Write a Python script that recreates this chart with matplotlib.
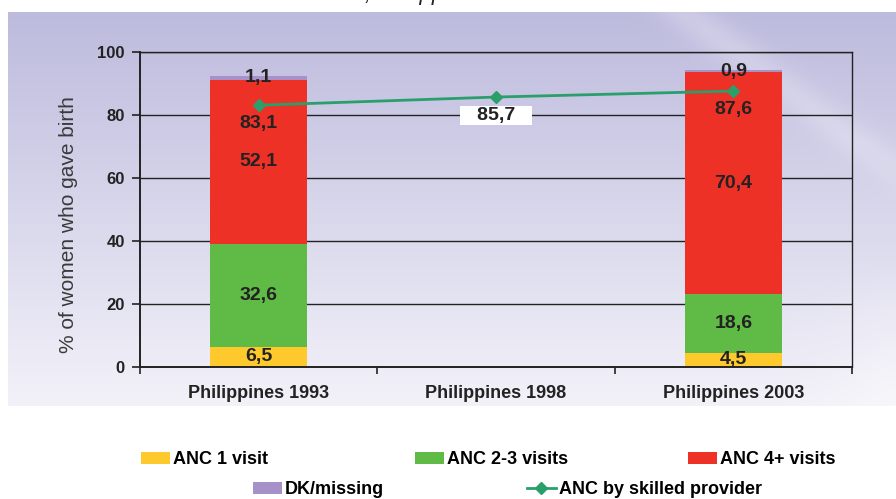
import numpy as np
import matplotlib.pyplot as plt
from matplotlib.patches import Patch
from matplotlib.lines import Line2D

plt.rcParams['font.family'] = ['Liberation Sans', 'DejaVu Sans']

# data (1998 has no visit breakdown, only the skilled-provider point)
categories = ['Philippines 1993', 'Philippines 1998', 'Philippines 2003']
anc_1 = [6.5, np.nan, 4.5]
anc_2_3 = [32.6, np.nan, 18.6]
anc_4plus = [52.1, np.nan, 70.4]
dk_missing = [1.1, np.nan, 0.9]
skilled = [83.1, 85.7, 87.6]

series_names = ['ANC 1 visit', 'ANC 2-3 visits', 'ANC 4+ visits', 'DK/missing']
series_colors = ['#fec92c', '#5fba46', '#ee3126', '#a791c9']
line_name = 'ANC by skilled provider'
line_color = '#2a9f6c'

W, H = 896, 499
fig = plt.figure(figsize=(W / 100, H / 100), dpi=100)

# lavender gradient panel behind the chart
px0, py0, px1, py1 = 8, 12, 896, 406
bg = fig.add_axes([px0 / W, 1 - py1 / H, (px1 - px0) / W, (py1 - py0) / H])
bg.set_zorder(0)
xs = np.arange(px0, px1)
ys = np.arange(py0, py1)
X, Y = np.meshgrid(xs, ys)
t = ((Y - py0) / (py1 - py0))[..., None]
top = np.array([189, 187, 221]) / 255
bottom = np.array([243, 242, 249]) / 255
img = top * (1 - t) + bottom * t
d = np.abs((Y - 12) - 0.75 * (X - 683)) / 1.25
light = 0.22 * np.exp(-(d / 18) ** 2) * np.clip((260 - Y) / 120, 0, 1)
light += 0.35 * np.exp(-((X - 896) / 60) ** 2) * np.clip((Y - 260) / 120, 0, 1)
light = np.clip(light, 0, 0.6)[..., None]
img = img * (1 - light) + light
bg.imshow(img, aspect='auto', interpolation='bilinear')
bg.axis('off')

ax = fig.add_axes([140 / W, 1 - 367 / H, 712 / W, 315 / H])
ax.set_zorder(1)
ax.patch.set_alpha(0)

x = np.arange(len(categories))
bottoms = np.zeros(len(categories))
for name, vals, col in zip(series_names, [anc_1, anc_2_3, anc_4plus, dk_missing], series_colors):
    vals = np.array(vals, dtype=float)
    ax.bar(x, vals, 0.41, bottom=bottoms, color=col, zorder=2)
    for i, v in enumerate(vals):
        if not np.isnan(v):
            ax.text(x[i], bottoms[i] + v / 2, f'{v:.1f}'.replace('.', ','),
                    ha='center', va='center', fontsize=14, fontweight='bold',
                    color='#222222', zorder=5)
    bottoms = bottoms + np.nan_to_num(vals)

ax.plot(x, skilled, color=line_color, lw=2, marker='D', markersize=6, zorder=4)
for i, v in enumerate(skilled):
    lab = f'{v:.1f}'.replace('.', ',')
    kw = {}
    if i == 1:
        lab = '   ' + lab + '   '
        kw['bbox'] = dict(boxstyle='square,pad=0.05', facecolor='white', edgecolor='none')
    ax.annotate(lab, (x[i], v), xytext=(0, -18), textcoords='offset pixels',
                ha='center', va='center', fontsize=14, fontweight='bold',
                color='#222222', zorder=6, **kw)

ax.set_xlim(-0.5, 2.5)
ax.set_ylim(0, 100)
ax.set_yticks(range(0, 101, 20))
ax.set_xticks(x)
ax.set_xticklabels(categories)
ax.set_xticks([-0.5, 0.5, 1.5, 2.5], minor=True)
ax.yaxis.grid(True, color='#222222', lw=1.0, zorder=1)
ax.set_axisbelow(True)
for s in ['left', 'bottom']:
    ax.spines[s].set_color('#222222')
    ax.spines[s].set_linewidth(1.4)
for s in ['right', 'top']:
    ax.spines[s].set_color('#222222')
    ax.spines[s].set_linewidth(1.0)
ax.tick_params(axis='y', direction='out', length=6, width=1.2, pad=5,
               labelsize=12, colors='#222222')
ax.tick_params(axis='x', which='major', length=0, pad=13, labelsize=13, colors='#222222')
ax.tick_params(axis='x', which='minor', direction='out', length=5, width=1.2, color='#222222')
for lbl in ax.get_xticklabels() + ax.get_yticklabels():
    lbl.set_fontweight('bold')

fig.text(68 / W, 1 - 225 / H, '% of women who gave birth', rotation=90,
         ha='center', va='center', fontsize=15, color='#3a3a3a')

# title of the original slide, cut off at the top edge
fig.text(365 / W, 1.0, ', Philippines', style='italic', fontsize=16,
         ha='left', va='baseline', color='#222222')

# legend entries sit at fixed spots like in the original
handles = [Patch(facecolor=c, edgecolor='none') for c in series_colors]
handles.append(Line2D([], [], color=line_color, lw=2, marker='D', markersize=6))
labels = series_names + [line_name]
spots = [(141, 460), (415, 460), (688, 460), (253, 490), (527, 490)]
for h, lab, (sx, sy) in zip(handles, labels, spots):
    fig.legend(handles=[h], labels=[lab], loc='center left',
               bbox_to_anchor=(sx / W, 1 - sy / H), frameon=False,
               handlelength=1.6, handleheight=0.6, handletextpad=0.15,
               borderpad=0, borderaxespad=0,
               prop={'size': 13, 'weight': 'bold'})

fig.savefig('out.png', dpi=100)
